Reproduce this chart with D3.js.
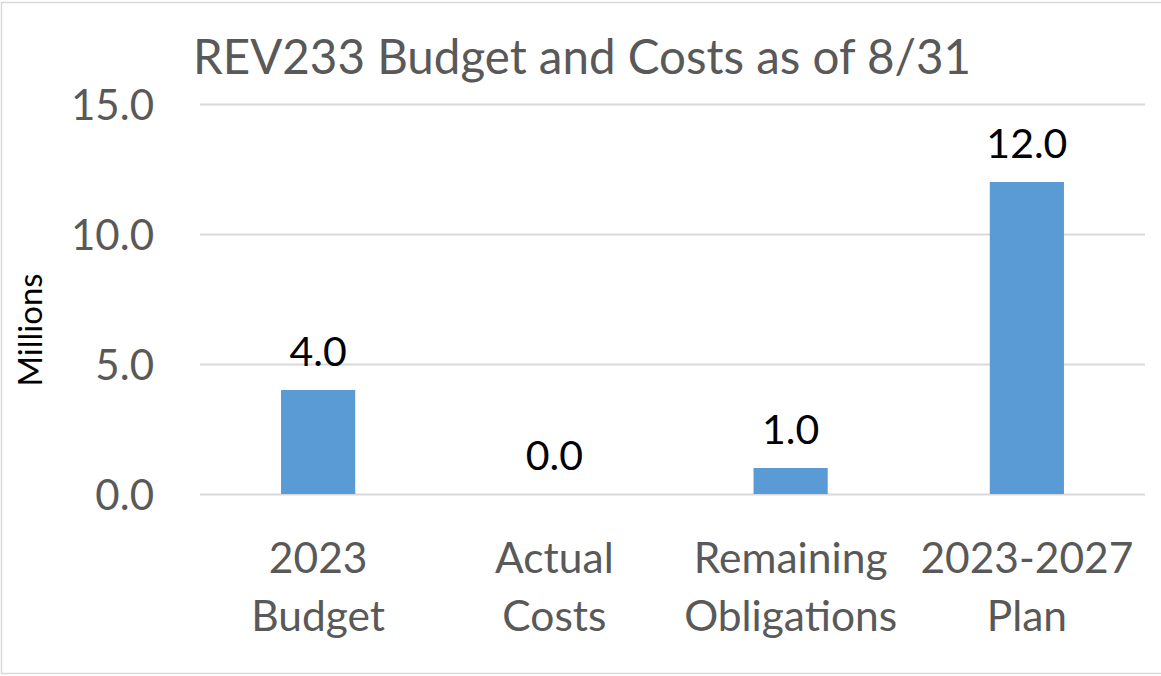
<!DOCTYPE html>
<html>
<head>
<meta charset="utf-8">
<script src="https://cdn.jsdelivr.net/npm/d3@7"></script>
<style>
  body { margin: 0; background: #fff; }
  svg text { font-family: Lato, "Open Sans", sans-serif; }
</style>
</head>
<body>
<div id="chart"></div>
<script>
// chart data
var categories = [["2023", "Budget"], ["Actual", "Costs"], ["Remaining", "Obligations"], ["2023-2027", "Plan"]];
var values = [4.0, 0.0, 1.0, 12.0];
var yTicks = [0, 5, 10, 15];
var titleText = "REV233 Budget and Costs as of 8/31";
var yLabel = "Millions";

var width = 1161, height = 676;
var margin = {top: 104, right: 16, bottom: 182, left: 200};

var svg = d3.select("#chart").append("svg")
    .attr("width", width)
    .attr("height", height);

// outer border
svg.append("rect")
    .attr("x", 1.5).attr("y", 2.5)
    .attr("width", width + 10).attr("height", 671)
    .attr("fill", "none")
    .attr("stroke", "#d9d9d9")
    .attr("stroke-width", 1.5);

var x = d3.scaleBand()
    .domain(d3.range(categories.length))
    .range([margin.left, width - margin.right])
    .paddingInner(0.686)
    .paddingOuter(0.343);

var y = d3.scaleLinear()
    .domain([0, 15])
    .range([height - margin.bottom, margin.top]);

// gridlines
svg.append("g").selectAll("line")
    .data(yTicks)
    .enter().append("line")
    .attr("x1", margin.left)
    .attr("x2", width - margin.right)
    .attr("y1", function(d) { return Math.round(y(d)) + 0.5; })
    .attr("y2", function(d) { return Math.round(y(d)) + 0.5; })
    .attr("stroke", "#d9d9d9")
    .attr("stroke-width", 2);

// y axis labels
var yAxis = d3.axisLeft(y)
    .tickValues(yTicks)
    .tickFormat(d3.format(".1f"))
    .tickSize(0)
    .tickPadding(46);
var yg = svg.append("g")
    .attr("transform", "translate(" + margin.left + ",0)")
    .call(yAxis);
yg.select(".domain").remove();
yg.selectAll("text")
    .attr("fill", "#595959")
    .style("font-size", "42px")
    .attr("dy", "0.36em");

// bars
svg.append("g").selectAll("rect")
    .data(values)
    .enter().append("rect")
    .attr("x", function(d, i) { return x(i); })
    .attr("y", function(d) { return y(d); })
    .attr("width", x.bandwidth())
    .attr("height", function(d) { return y(0) - y(d); })
    .attr("fill", "#5b9bd5");

// data labels
svg.append("g").selectAll("text")
    .data(values)
    .enter().append("text")
    .attr("x", function(d, i) { return x(i) + x.bandwidth() / 2; })
    .attr("y", function(d) { return y(d) - 24; })
    .attr("text-anchor", "middle")
    .attr("fill", "#000")
    .style("font-size", "41px")
    .text(function(d) { return d3.format(".1f")(d); });

// category labels
var cat = svg.append("g").selectAll("text")
    .data(categories)
    .enter().append("text")
    .attr("text-anchor", "middle")
    .attr("fill", "#595959")
    .style("font-size", "42.5px")
    .attr("transform", function(d, i) {
        return "translate(" + (x(i) + x.bandwidth() / 2) + "," + (y(0) + 79) + ")";
    });
cat.selectAll("tspan")
    .data(function(d) { return d; })
    .enter().append("tspan")
    .attr("x", 0)
    .attr("dy", function(d, j) { return j === 0 ? 0 : 58; })
    .text(function(d) { return d; });

// title
svg.append("text")
    .attr("x", 582)
    .attr("y", 74)
    .attr("text-anchor", "middle")
    .attr("fill", "#595959")
    .style("font-size", "47.5px")
    .text(titleText);

// y axis title
svg.append("text")
    .attr("transform", "translate(42,330) rotate(-90)")
    .attr("text-anchor", "middle")
    .attr("fill", "#000")
    .style("font-size", "33px")
    .text(yLabel);
</script>
</body>
</html>
